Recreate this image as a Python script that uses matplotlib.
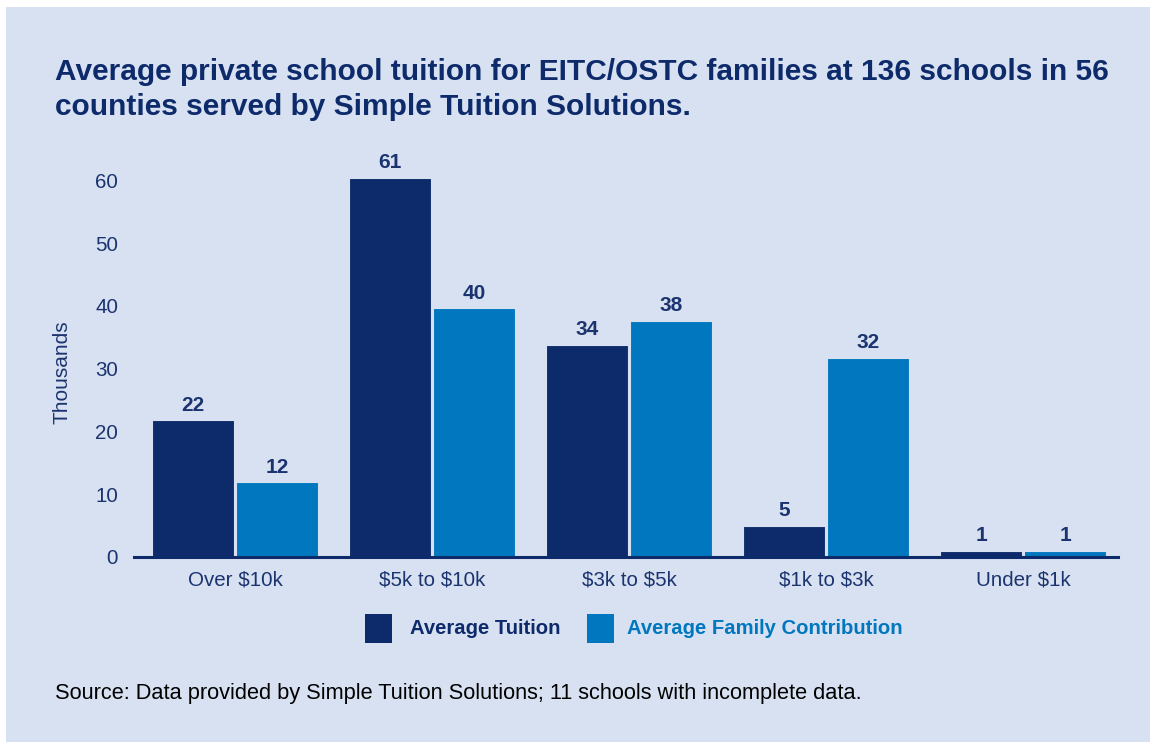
import matplotlib
matplotlib.use("Agg")
import matplotlib.pyplot as plt
from matplotlib.patches import Rectangle
import numpy as np

categories = ["Over $10k", "$5k to $10k", "$3k to $5k", "$1k to $3k", "Under $1k"]
tuition = [21.8, 60.4, 33.8, 5.0, 1.0]
family = [11.9, 39.6, 37.6, 31.7, 1.0]
tuition_labels = ["22", "61", "34", "5", "1"]
family_labels = ["12", "40", "38", "32", "1"]
yticks = [0, 10, 20, 30, 40, 50, 60]

NAVY = "#0d2a6a"
BLUE = "#0077be"
BG = "#d8e1f1"
TXT = "#1b3470"

plt.rcParams['font.family'] = ['Liberation Sans', 'DejaVu Sans']
plt.rcParams['text.parse_math'] = False

W, H = 1150, 742
fig = plt.figure(figsize=(W/100, H/100), dpi=100)
fig.patch.set_facecolor("white")
fig.patches.append(Rectangle((6/W, 0), 1 - 6/W, 1 - 7/H, transform=fig.transFigure,
                             facecolor=BG, edgecolor="none", zorder=-10))

ax_l, ax_r = 134, 1118
ax_b, ax_t = 557, 150
ax = fig.add_axes([ax_l/W, 1 - ax_b/H, (ax_r-ax_l)/W, (ax_b-ax_t)/H])
ax.set_facecolor("none")

x = np.arange(len(categories))
bw = 0.42
b1 = ax.bar(x - bw/2 - 0.003, tuition, width=bw, color=NAVY, edgecolor=BG, linewidth=0.8)
b2 = ax.bar(x + bw/2 + 0.003, family, width=bw, color=BLUE, edgecolor=BG, linewidth=0.8)

ymax = (557 - 150) / 6.28
ax.set_ylim(0, ymax)
ax.set_xlim(-0.513, 4.482)

for rect, lab in zip(b1, tuition_labels):
    ax.annotate(lab, (rect.get_x() + rect.get_width()/2, rect.get_height()),
                xytext=(0, 4), textcoords="offset points", ha="center", va="bottom",
                fontsize=15, fontweight="bold", color=TXT)
for rect, lab in zip(b2, family_labels):
    ax.annotate(lab, (rect.get_x() + rect.get_width()/2, rect.get_height()),
                xytext=(0, 4), textcoords="offset points", ha="center", va="bottom",
                fontsize=15, fontweight="bold", color=TXT)

for s in ["top", "right", "left"]:
    ax.spines[s].set_visible(False)
ax.spines["bottom"].set_color(NAVY)
ax.spines["bottom"].set_linewidth(2.2)
ax.set_yticks(yticks)
ax.set_yticklabels([str(v) for v in yticks])
ax.set_xticks(x)
ax.set_xticklabels(categories)
ax.tick_params(axis="both", length=0, labelsize=14.8, colors=TXT)
ax.tick_params(axis="y", pad=11.5)
ax.tick_params(axis="x", pad=9.5)

fig.text(62/W, 1 - 372/H, "Thousands", rotation=90, ha="center", va="center",
         fontsize=15, color=TXT)

fig.text(55/W, 1 - 58/H, "Average private school tuition for EITC/OSTC families at 136 schools in 56\ncounties served by Simple Tuition Solutions.",
         ha="left", va="top", fontsize=21.5, fontweight="bold", color=NAVY, linespacing=1.3)

# legend
fig.patches.append(Rectangle((365/W, 1 - 643/H), 27/W, 29/H, transform=fig.transFigure,
                             facecolor=NAVY, edgecolor="none"))
fig.text(410/W, 1 - 628/H, "Average Tuition", ha="left", va="center",
         fontsize=14.6, fontweight="bold", color=NAVY)
fig.patches.append(Rectangle((587/W, 1 - 643/H), 27/W, 29/H, transform=fig.transFigure,
                             facecolor=BLUE, edgecolor="none"))
fig.text(627/W, 1 - 628/H, "Average Family Contribution", ha="left", va="center",
         fontsize=14.6, fontweight="bold", color=BLUE)

fig.text(55/W, 1 - 693/H, "Source: Data provided by Simple Tuition Solutions; 11 schools with incomplete data.",
         ha="left", va="center", fontsize=15.65, color="black")

fig.savefig("out.png", dpi=100, facecolor=fig.get_facecolor())
